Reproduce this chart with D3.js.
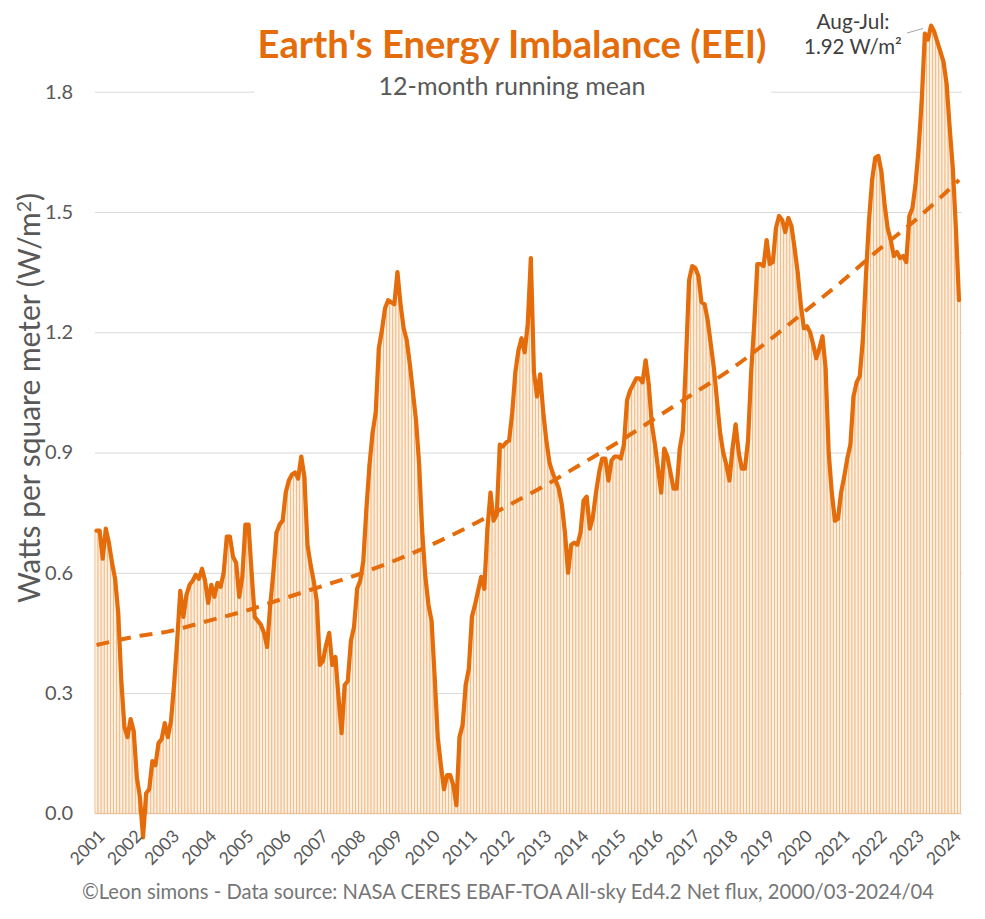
<!DOCTYPE html>
<html>
<head>
<meta charset="utf-8">
<script src="https://cdn.jsdelivr.net/npm/d3@7"></script>
<style>
  body { margin: 0; background: #fff; }
  svg { display: block; }
  text { font-family: Lato, "Open Sans", "Noto Sans", sans-serif; }
</style>
</head>
<body>
<div id="chart"></div>
<script>
// ---- Data: 12-month running mean of Earth's Energy Imbalance (W/m²), monthly, Feb 2001 .. Apr 2024
const firstMonth = "2001-02";
const eei = [
  0.705,0.705,0.635,0.71,0.675,0.625,0.585,0.50,0.33,0.215,0.19,0.235,
  0.205,0.09,0.04,-0.06,0.05,0.06,0.13,0.12,0.175,0.185,0.225,0.19,
  0.23,0.32,0.43,0.555,0.49,0.545,0.57,0.58,0.595,0.585,0.61,0.58,
  0.525,0.57,0.54,0.575,0.565,0.60,0.69,0.69,0.64,0.625,0.54,0.59,
  0.72,0.72,0.60,0.49,0.48,0.47,0.45,0.415,0.52,0.60,0.70,0.72,
  0.73,0.80,0.83,0.845,0.85,0.835,0.89,0.84,0.67,0.62,0.58,0.53,
  0.37,0.38,0.42,0.45,0.37,0.39,0.29,0.20,0.32,0.33,0.43,0.465,
  0.56,0.58,0.63,0.76,0.87,0.95,1.0,1.16,1.205,1.26,1.28,1.275,
  1.27,1.35,1.27,1.21,1.18,1.12,1.05,0.98,0.87,0.70,0.59,0.52,
  0.48,0.34,0.19,0.12,0.06,0.095,0.095,0.07,0.02,0.19,0.22,0.32,
  0.36,0.49,0.52,0.555,0.59,0.56,0.71,0.80,0.73,0.745,0.92,0.915,
  0.925,0.93,1.0,1.10,1.155,1.185,1.15,1.22,1.385,1.10,1.04,1.095,
  1.0,0.93,0.875,0.85,0.83,0.81,0.77,0.70,0.60,0.67,0.675,0.67,
  0.70,0.78,0.79,0.71,0.74,0.80,0.85,0.885,0.885,0.83,0.88,0.89,
  0.89,0.885,0.92,1.03,1.055,1.07,1.085,1.085,1.075,1.13,1.07,0.97,
  0.92,0.86,0.80,0.91,0.89,0.85,0.81,0.81,0.91,0.955,1.13,1.33,
  1.365,1.36,1.34,1.275,1.27,1.23,1.17,1.11,1.03,0.95,0.90,0.87,
  0.83,0.91,0.97,0.90,0.86,0.86,0.93,1.10,1.22,1.37,1.37,1.365,
  1.43,1.37,1.375,1.46,1.49,1.48,1.45,1.485,1.465,1.41,1.35,1.27,
  1.21,1.215,1.20,1.17,1.135,1.16,1.19,1.11,0.90,0.80,0.73,0.735,
  0.80,0.84,0.885,0.92,1.04,1.075,1.09,1.18,1.34,1.48,1.58,1.635,
  1.64,1.60,1.52,1.46,1.43,1.39,1.40,1.385,1.39,1.375,1.49,1.51,
  1.57,1.66,1.78,1.945,1.93,1.965,1.95,1.925,1.90,1.875,1.82,1.71,1.61,1.46,1.28
];

// Trend line values read at yearly positions (month index) and the last month
const trendIndex  = [0,12,24,36,48,60,72,84,96,108,120,132,144,156,168,180,192,204,216,228,240,252,264,276,278];
const trendValues = [0.42,0.44,0.455,0.48,0.505,0.535,0.565,0.595,0.63,0.67,0.715,0.765,0.815,0.87,0.925,0.985,1.045,1.105,1.175,1.25,1.325,1.405,1.48,1.565,1.58];

const yearLabels = ["2001","2002","2003","2004","2005","2006","2007","2008","2009","2010","2011","2012",
                    "2013","2014","2015","2016","2017","2018","2019","2020","2021","2022","2023","2024"];
const yearIndex = [0,12,24,36,48,60,72,84,96,108,120,132,144,156,168,180,192,204,216,228,240,252,264,276];
const yTicks = [0, 0.3, 0.6, 0.9, 1.2, 1.5, 1.8];

const titleText = "Earth's Energy Imbalance (EEI)";
const subtitleText = "12-month running mean";
const footerText = "\u00A9Leon simons - Data source: NASA CERES EBAF-TOA All-sky Ed4.2 Net flux, 2000/03-2024/04";
const annotationLines = ["Aug-Jul:", "1.92 W/m\u00B2"];

// ---- Layout
const W = 985, H = 919;
const ORANGE = "#E46C0A";
const svg = d3.select("#chart").append("svg").attr("width", W).attr("height", H);
svg.append("rect").attr("width", W).attr("height", H).attr("fill", "#fff");

const x = d3.scaleLinear().domain([0, eei.length - 1]).range([96.5, 959]);
const y = d3.scaleLinear().domain([0, 1.8]).range([813.3, 91.7]);
const step = x(1) - x(0);
const plotLeft = 95, plotRight = 962;

function fitText(sel, target) {
  const fs = parseFloat(sel.attr("font-size"));
  const len = sel.node().getComputedTextLength();
  if (len > 0) sel.attr("font-size", (fs * target / len).toFixed(2));
  return sel;
}

// Gridlines + y tick labels
const gy = svg.append("g").attr("transform", `translate(${plotLeft},0)`)
  .call(d3.axisLeft(y).tickValues(yTicks).tickFormat(d3.format(".1f"))
        .tickSize(-(plotRight - plotLeft)).tickPadding(22));
gy.select(".domain").remove();
gy.selectAll(".tick line").attr("stroke", "#d9d9d9").attr("stroke-width", 1);
gy.selectAll(".tick text").attr("font-size", 20).attr("fill", "#595959")
  .style("font-family", "Lato, sans-serif");

// White title box covering the top gridline
svg.append("rect").attr("x", 254).attr("y", 5).attr("width", 517).attr("height", 100).attr("fill", "#fff");

// Bars
svg.append("g").selectAll("rect").data(eei).join("rect")
  .attr("x", (d, i) => x(i) - step / 2)
  .attr("width", step)
  .attr("y", d => y(Math.max(d, 0)))
  .attr("height", d => y(0) - y(Math.max(d, 0)))
  .attr("fill", "#fdeedd")
  .attr("stroke", "#eeb681")
  .attr("stroke-width", 0.8);

// Trend (dashed)
const trendData = trendIndex.map((t, k) => [t, trendValues[k]]);
svg.append("path").datum(trendData)
  .attr("fill", "none").attr("stroke", ORANGE).attr("stroke-width", 4)
  .attr("stroke-dasharray", "13,9")
  .attr("d", d3.line().x(d => x(d[0])).y(d => y(d[1])).curve(d3.curveCatmullRom));

// Main line
svg.append("path").datum(eei)
  .attr("fill", "none").attr("stroke", ORANGE).attr("stroke-width", 4.2)
  .attr("stroke-linejoin", "round").attr("stroke-linecap", "round")
  .attr("d", d3.line().x((d, i) => x(i)).y(d => y(d)));

// X axis labels
const gx = svg.append("g").attr("transform", `translate(0,${y(0)})`)
  .call(d3.axisBottom(x).tickValues(yearIndex).tickFormat((d, k) => yearLabels[k]).tickSize(0));
gx.select(".domain").remove();
gx.selectAll(".tick text")
  .attr("x", 0).attr("y", 0).attr("dy", null)
  .attr("text-anchor", "end")
  .attr("transform", "translate(9,24) rotate(-45)")
  .attr("font-size", 17.5).attr("fill", "#595959")
  .style("font-family", "Lato, sans-serif");

// Title & subtitle
fitText(svg.append("text").attr("x", 512).attr("y", 58).attr("text-anchor", "middle")
  .attr("font-size", 35).attr("font-weight", "bold").attr("fill", ORANGE).text(titleText), 509);
fitText(svg.append("text").attr("x", 512).attr("y", 94.5).attr("text-anchor", "middle")
  .attr("font-size", 23).attr("fill", "#595959").text(subtitleText), 267);

// Y axis title
const yt = svg.append("text").attr("transform", "translate(40,398) rotate(-90)")
  .attr("text-anchor", "middle").attr("font-size", 28).attr("fill", "#595959");
yt.append("tspan").text("Watts per square meter (W/m");
yt.append("tspan").attr("dy", "-0.45em").attr("font-size", "0.65em").text("2");
yt.append("tspan").attr("dy", "0.3em").text(")");
fitText(yt, 410);

// Annotation
svg.append("line").attr("x1", 907).attr("y1", 33).attr("x2", 923).attr("y2", 28.5)
  .attr("stroke", "#a6a6a6").attr("stroke-width", 1);
fitText(svg.append("text").attr("x", 853).attr("y", 28.5).attr("text-anchor", "middle")
  .attr("font-size", 19).attr("fill", "#404040").text(annotationLines[0]), 73);
fitText(svg.append("text").attr("x", 853).attr("y", 53.5).attr("text-anchor", "middle")
  .attr("font-size", 19).attr("fill", "#404040").text(annotationLines[1]), 98);

// Footer
fitText(svg.append("text").attr("x", 508).attr("y", 899).attr("text-anchor", "middle")
  .attr("font-size", 21).attr("fill", "#767676").text(footerText), 853);
</script>
</body>
</html>
